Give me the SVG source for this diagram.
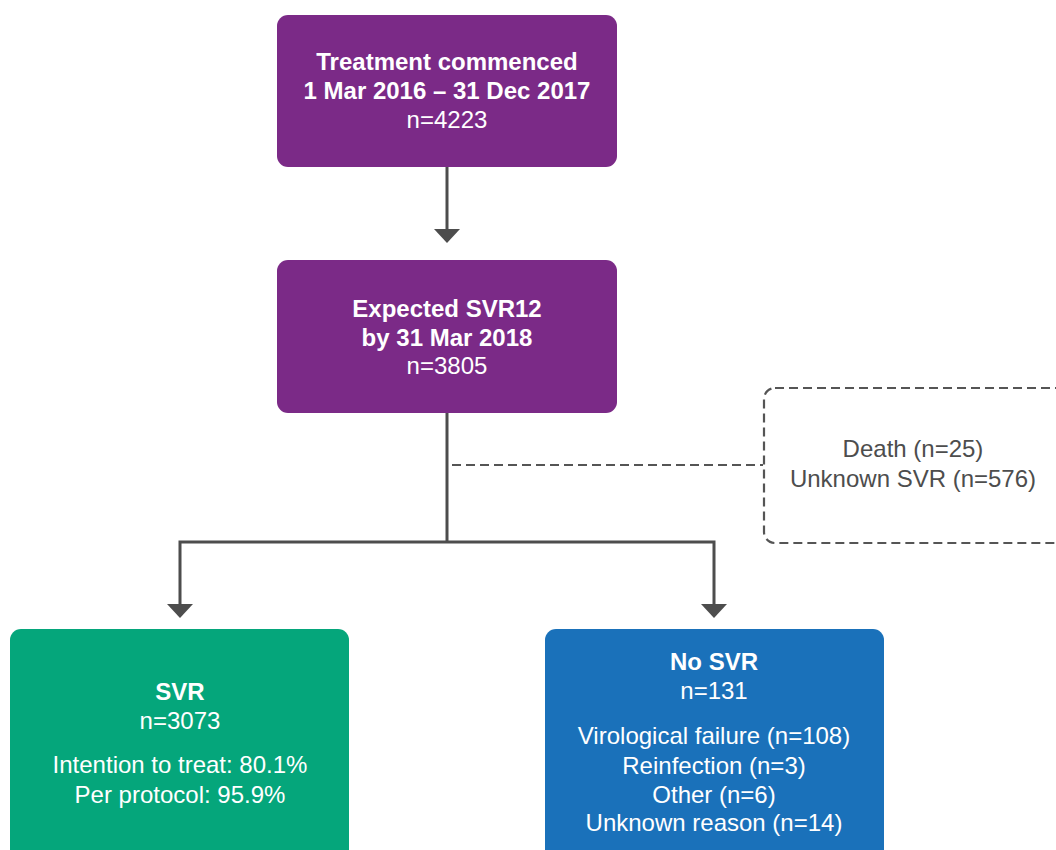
<svg xmlns="http://www.w3.org/2000/svg" width="1056" height="850" viewBox="0 0 1056 850">
<style>
text{font-family:"Liberation Sans",Arial,sans-serif;font-size:24px;text-anchor:middle;fill:#ffffff}
.b{font-weight:bold}
.g{fill:#4d4d4d}
.conn{stroke:#4d4d4d;stroke-width:3;fill:none}
.dash{stroke:#555555;stroke-width:2.2;stroke-dasharray:9 5;fill:none}
</style>
<g id="connectors">
<line class="conn" x1="447" y1="167" x2="447" y2="230"/>
<path d="M434,229 L460,229 L447,243 Z" fill="#4d4d4d"/>
<polyline class="conn" points="447,413 447,542"/>
<polyline class="conn" points="180,605 180,542 714,542 714,605"/>
<path d="M167,604 L193,604 L180,618 Z" fill="#4d4d4d"/>
<path d="M701,604 L727,604 L714,618 Z" fill="#4d4d4d"/>
<line class="dash" x1="452" y1="465" x2="763" y2="465"/>
</g>
<g id="n1">
<rect x="277" y="15" width="340" height="152" rx="11" fill="#7b2a87"/>
<text x="447" y="70" class="b">Treatment commenced</text>
<text x="447" y="99" class="b">1 Mar 2016 – 31 Dec 2017</text>
<text x="447" y="128">n=4223</text>
</g>
<g id="n2">
<rect x="277" y="260" width="340" height="153" rx="11" fill="#7b2a87"/>
<text x="447" y="317" class="b">Expected SVR12</text>
<text x="447" y="346" class="b">by 31 Mar 2018</text>
<text x="447" y="374">n=3805</text>
</g>
<g id="n3">
<rect class="dash" x="764" y="388" width="330" height="155" rx="11"/>
<text x="913" y="457" class="g">Death (n=25)</text>
<text x="913" y="487" class="g">Unknown SVR (n=576)</text>
</g>
<g id="n4">
<rect x="10" y="629" width="339" height="235" rx="11" fill="#05a67b"/>
<text x="180" y="700" class="b">SVR</text>
<text x="180" y="729">n=3073</text>
<text x="180" y="773">Intention to treat: 80.1%</text>
<text x="180" y="803">Per protocol: 95.9%</text>
</g>
<g id="n5">
<rect x="545" y="629" width="339" height="235" rx="11" fill="#1a71ba"/>
<text x="714" y="670" class="b">No SVR</text>
<text x="714" y="699">n=131</text>
<text x="714" y="744">Virological failure (n=108)</text>
<text x="714" y="774">Reinfection (n=3)</text>
<text x="714" y="803">Other (n=6)</text>
<text x="714" y="831">Unknown reason (n=14)</text>
</g>
</svg>
